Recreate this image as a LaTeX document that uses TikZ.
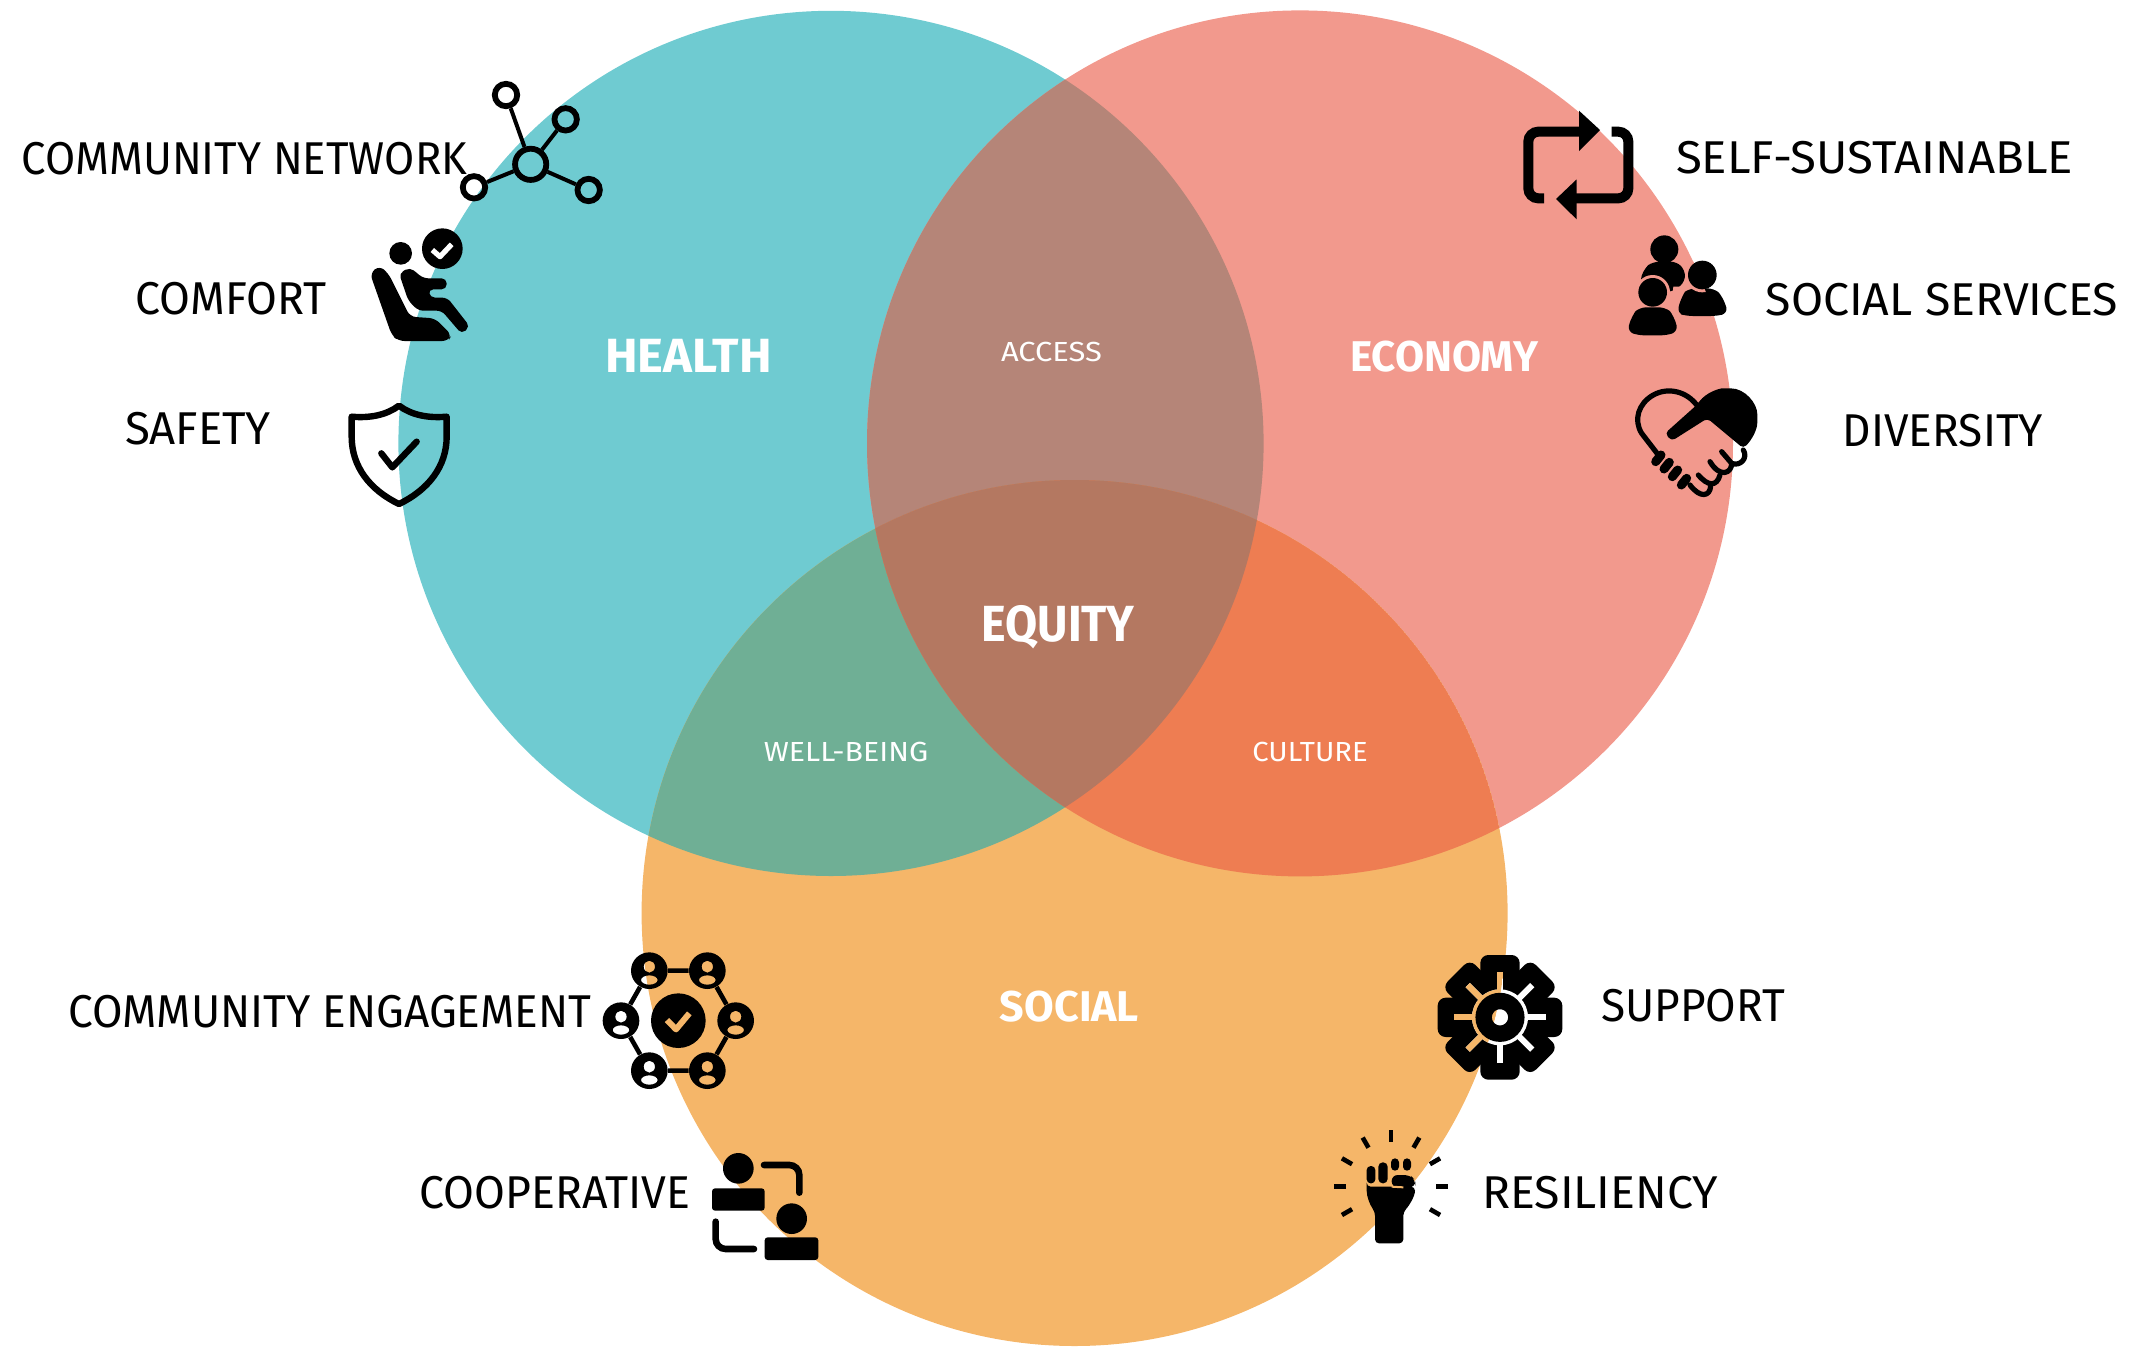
\documentclass[tikz,border=0pt]{standalone}
\usepackage{fontspec}
\setmainfont{Fira Sans}
\usetikzlibrary{positioning}
\definecolor{healthc}{HTML}{6FCBD1}
\definecolor{economyc}{HTML}{F2998D}
\definecolor{socialc}{HTML}{F5B669}
\definecolor{accessc}{HTML}{B58578}
\definecolor{wellc}{HTML}{6FAF95}
\definecolor{culturec}{HTML}{EE7D52}
\definecolor{equityc}{HTML}{B47861}
\tikzset{
	sidelabel/.style = {font=\fontsize{23}{23}\selectfont\addfontfeatures{FakeStretch=#1}, inner sep=0pt, text height=15.8pt, text depth=0pt},
	bigtag/.style 2 args = {font=\fontsize{#1}{#1}\selectfont\bfseries\addfontfeatures{FakeStretch=#2}, text=white, inner sep=0pt, text height=.69*#1 pt, text depth=0pt},
	smalltag/.style  = {font=\fontsize{13.8}{13.8}\selectfont\addfontfeatures{FakeStretch=#1}, text=white, inner sep=0pt, text height=9.5pt, text depth=0pt},
	cropview/.style  = {shift={(#1)}, scale=1/3},
	netdot/.style    = {circle, draw, line width=2.9pt, inner sep=0pt, minimum size=11.2pt},
	nethub/.style    = {netdot, minimum size=15.6pt},
	netline/.style   = {line width=2pt},
	hexcell/.style   = {circle, inner sep=0pt, minimum size=18.3pt},
	hexline/.style   = {line width=2.3pt},
	iconline/.style  = {line width=3.2pt, line cap=round, line join=round},
	handline/.style  = {line width=2.6pt, line cap=round, line join=round},
	loopline/.style  = {line width=5pt, rounded corners=5pt},
	coopline/.style  = {line width=3.3pt, line cap=round, rounded corners=5pt}
}
\newcommand{\gearslits}[1]{
	\fill[#1] (570,262) circle[radius=84];
	\foreach \a in {0,45,...,315}
		\fill[#1,rotate around={\a:(570,262)}] (561,125) rectangle (579,262);
}
\begin{document}
\begin{tikzpicture}[x=0.5pt,y=-0.5pt]
\useasboundingbox (0,0) rectangle (2133,1346);

% the three circles and their overlaps
\coordinate (health) at (831,443.4);
\coordinate (economy) at (1300,443.4);
\coordinate (social) at (1074.6,913);
\fill[healthc] (health) circle[radius=432.6];
\fill[economyc] (economy) circle[radius=433];
\fill[socialc] (social) circle[radius=433];
\begin{scope}
\clip (health) circle[radius=432.6];
\fill[accessc] (economy) circle[radius=433];
\fill[wellc] (social) circle[radius=433];
\clip (economy) circle[radius=433];
\fill[equityc] (social) circle[radius=433];
\end{scope}
\begin{scope}
\clip (economy) circle[radius=433];
\clip (social) circle[radius=433];
\fill[culturec] (social) circle[radius=433];
\clip (health) circle[radius=432.6];
\fill[equityc] (social) circle[radius=433];
\end{scope}

% texts inside the circles
\node[bigtag={24}{1.02}] (thealth) at (688.5,356) {HEALTH};
\node[bigtag={21.5}{.98}] (teconomy) at (1444,357) {ECONOMY};
\node[bigtag={21.5}{1}] (tsocial) at (1069.5,1006.5) {SOCIAL};
\node[bigtag={25.4}{.92}] (tequity) at (1058,623.5) {EQUITY};
\node[smalltag=1.12] (taccess) at (1051.5,352) {ACCESS};
\node[smalltag=1.1] (twell) at (846,752) {WELL-BEING};
\node[smalltag=1.06] (tculture) at (1310,752) {CULTURE};

% texts outside
\node[sidelabel=.95] (lnetwork) at (244.5,159) {COMMUNITY NETWORK};
\node[sidelabel=.97] (lcomfort) at (231,299) {COMFORT};
\node[sidelabel=.99] (lsafety) at (198,429) {SAFETY};
\node[sidelabel=1.03] (lself) at (1874.5,157.4) {SELF-SUSTAINABLE};
\node[sidelabel=1.01] (lservices) at (1942,300) {SOCIAL SERVICES};
\node[sidelabel=.96] (ldiversity) at (1943,431) {DIVERSITY};
\node[sidelabel=.96] (lengage) at (330,1012) {COMMUNITY ENGAGEMENT};
\node[sidelabel=.97] (lcoop) at (555,1193) {COOPERATIVE};
\node[sidelabel=.96] (lsupport) at (1693,1006) {SUPPORT};
\node[sidelabel=1.01] (lresil) at (1600,1193) {RESILIENCY};

% network, comfort, shield
\begin{scope}[cropview={340,60}]
\node[nethub] (nhub) at (572,313) {};
\node[netdot] (na) at (498,105) {};
\node[netdot] (nb) at (677,178) {};
\node[netdot] (nc) at (402,382) {};
\node[netdot] (nd) at (746,390) {};
\foreach \n in {na,nb,nc,nd}
	\draw[netline] (nhub) -- (\n);
\fill (182,580) circle[radius=34];
\fill (307,566) circle[radius=61];
\draw[white,line width=2.6pt,line join=round] (277,570) -- (300,590) -- (335,553);
\fill[rounded corners=3pt] (90,640) -- (118,617) -- (145,640) -- (210,770) -- (285,775) -- (335,825) -- (325,843) -- (175,843) -- (155,825) -- cycle;
\fill[rounded corners=2.5pt] (177,640) -- (210,622) -- (250,655) -- (320,655) -- (320,688) -- (265,688) -- (270,713) -- (322,713) -- (390,800) -- (365,822) -- (305,752) -- (235,752) -- (205,722) -- cycle;
\draw[iconline] (177,1037) .. controls (140,1065) and (90,1075) .. (35,1070) -- (35,1130) .. controls (35,1220) and (90,1290) .. (177,1332) .. controls (264,1290) and (320,1220) .. (320,1130) -- (320,1070) .. controls (264,1075) and (214,1065) .. (177,1037) -- cycle;
\draw[iconline] (124,1180) -- (157,1222) -- (230,1145);
\end{scope}

% loop, people, handshake
\begin{scope}[cropview={1500,90}]
\draw[loopline] (132,325) -- (85,325) -- (85,125) -- (245,125);
\draw[loopline] (335,125) -- (385,125) -- (385,325) -- (225,325);
\fill (237,62) -- (300,120) -- (237,183) -- cycle;
\fill (230,268) -- (168,327) -- (230,388) -- cycle;
\fill (493,478) circle[radius=42];
\fill[rounded corners=3pt] (420,575) .. controls (430,540) and (445,525) .. (460,515) -- (530,515) -- (555,540) -- (555,575) -- (520,605) -- (430,605) -- cycle;
\begin{scope}
\clip (-600,1060) circle[radius=1299];
\fill[economyc] (607,555) circle[radius=52];
\fill[economyc] (520,590) -- (560,590) -- (525,680) -- (510,680) -- cycle;
\end{scope}
\fill[rounded corners=3pt] (532,670) .. controls (540,630) and (555,605) .. (570,595) -- (640,595) .. controls (660,610) and (675,635) .. (683,670) -- (650,678) -- (560,678) -- cycle;
\begin{scope}
\clip (-600,1060) circle[radius=1299];
\fill[economyc] (607,555) circle[radius=52];
\end{scope}
\fill (607,555) circle[radius=43];
\fill[economyc] (458,607) circle[radius=52];
\fill[economyc] (375,735) -- (400,640) -- (520,640) -- (540,735) -- cycle;
\fill[rounded corners=3pt] (383,725) .. controls (390,690) and (405,665) .. (420,652) -- (495,652) .. controls (512,665) and (527,690) .. (533,725) -- (500,736) -- (415,736) -- cycle;
\fill (458,607) circle[radius=43];
\draw[handline] (590,945) .. controls (560,905) and (505,890) .. (460,915) .. controls (415,940) and (400,990) .. (425,1030) -- (475,1095);
\fill[rounded corners=2pt] (495,1030) -- (590,945) .. controls (620,905) and (660,895) .. (680,895) .. controls (735,895) and (772,940) .. (772,985) .. controls (772,1020) and (755,1050) .. (730,1075) -- (622,985) -- (515,1053) -- cycle;
\draw[handline] (730,1080) .. controls (745,1105) and (720,1130) .. (695,1120) -- (665,1085);
\draw[handline] (695,1120) .. controls (695,1150) and (660,1165) .. (630,1115);
\draw[handline] (660,1155) .. controls (650,1190) and (625,1190) .. (595,1155);
\draw[handline] (632,1188) .. controls (630,1220) and (600,1225) .. (570,1185);
\foreach \x/\y in {475/1105,500/1127,525/1150,552/1175}
	\draw[line width=4.5pt,line cap=round] (\x-8,\y+10) -- (\x+8,\y-10);
\end{scope}

% engagement hexagon and cooperative
\begin{scope}[cropview={590,930}]
\foreach \n/\x/\y in {ha/178/122,hb/352/122,hc/437/272,hd/352/422,he/178/422,hf/93/272} {
	\node[hexcell] (\n) at (\x,\y) {};
	\fill[even odd rule] (\x,\y) circle[radius=55] (\x,\y-12) ellipse[x radius=17,y radius=18] (\x,\y+28) ellipse[x radius=25,y radius=14];
}
\draw[hexline] (ha) -- (hb) (hb) -- (hc) (hc) -- (hd) (hd) -- (he) (he) -- (hf) (hf) -- (ha);
\fill (265,272) circle[radius=82];
\draw[socialc,line width=3pt,line join=round] (231,270) -- (258,298) -- (298,250);
\fill (445,715) circle[radius=46];
\fill[rounded corners=1.5pt] (366,775) rectangle (524,842);
\fill (605,866) circle[radius=46];
\fill[rounded corners=1.5pt] (524,922) rectangle (685,990);
\draw[coopline] (522,705) -- (628,705) -- (628,788);
\draw[coopline] (377,875) -- (377,957) -- (492,957);
\end{scope}

% gear and fist
\begin{scope}[cropview={1310,930}]
\fill (570,262) circle[radius=145];
\foreach \a in {0,45,...,315}
	\fill[rounded corners=4pt,rotate around={\a:(570,262)}] (511,75) rectangle (629,180);
\gearslits{white}
\begin{scope}
\clip (-706,-51) circle[radius=1299];
\gearslits{socialc}
\end{scope}
\draw[line width=8.2pt] (570,262) circle[radius=49];
\foreach \a in {-210,-180,...,30}
	\draw[line width=2.3pt] (243,770) ++(\a:135) -- ++(\a:35);
\fill[rounded corners=2pt] (170,770) -- (315,770) .. controls (315,800) and (295,830) .. (280,845) -- (280,940) -- (195,940) -- (195,845) .. controls (180,825) and (170,800) .. (170,770) -- cycle;
\fill[rounded corners=3pt] (245,735) -- (300,735) -- (316,750) -- (316,772) -- (245,772) -- cycle;
\fill[rounded corners=2pt] (170,708) rectangle (196,760);
\fill[rounded corners=2.2pt] (205,697) rectangle (233,760);
\fill[rounded corners=2pt] (243,685) rectangle (267,722);
\fill[rounded corners=2pt] (279,685) rectangle (303,722);
\draw[socialc,line width=1pt] (245,770) -- (280,772);
\end{scope}
\end{tikzpicture}
\end{document}
